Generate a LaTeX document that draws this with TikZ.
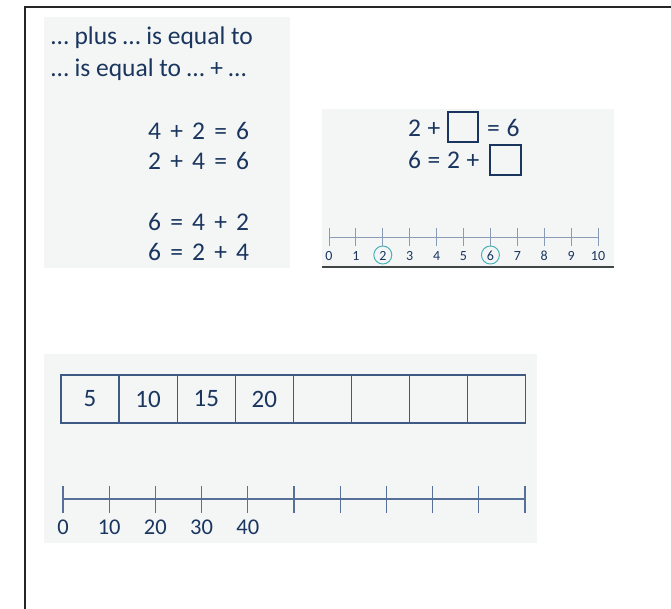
\documentclass[tikz,border=0pt]{standalone}
\usepackage{fontspec}
\setmainfont{Carlito}
\usetikzlibrary{calc}
\definecolor{ink}{HTML}{1A365F}
\definecolor{panelbg}{HTML}{F4F6F6}
\definecolor{boxline}{HTML}{3D5A85}
\definecolor{nlineA}{HTML}{8A9BB8}
\definecolor{nlineB}{HTML}{56709A}
\definecolor{teal}{HTML}{4BB3B8}
\definecolor{darkbar}{HTML}{3E4646}
\newcommand\gap{\hspace{0.36em}}
\newcommand\sgap{\hspace{0.26em}}
\tikzset{
  frameline/.style={draw=black!85, line width=1.3pt},
  panel/.style={fill=panelbg},
  txt/.style={text=ink, font=\fontsize{25.5}{30}\selectfont, inner sep=0pt, anchor=base west},
  blankbox/.style={draw=ink, line width=1.4pt, inner sep=0pt},
  cell/.style={draw=boxline, line width=1.3pt, minimum width=58.1pt, minimum height=48pt, inner sep=0pt, text=ink, font=\fontsize{25}{30}\selectfont},
  smalllab/.style={text=ink, font=\fontsize{14}{16}\selectfont, inner sep=0pt, anchor=base},
  biglab/.style={text=ink, font=\fontsize{22.5}{26}\selectfont, inner sep=0pt, anchor=base},
  ringmark/.style={draw=teal, line width=1pt, circle, minimum size=18pt, inner sep=0pt},
}
\begin{document}
\begin{tikzpicture}[x=1pt,y=-1pt]
\useasboundingbox (0,0) rectangle (671,608);
\clip (0,0) rectangle (671,608);
\fill[white] (0,0) rectangle (671,608);
% outer frame
\draw[frameline] (25,7) rectangle (700,700);
% panels
\fill[panel] (44,17) rectangle (290,268);
\fill[panel] (322,109) rectangle (614,267);
\fill[panel] (44,354) rectangle (537,543);
% panel 1 text
\node[txt] (l1) at (51,44) {… plus … is equal to};
\node[txt] (l2) at (51,76) {… is equal to … + …};
\node[txt] (e1) at (148,139) {4\gap+\gap2\gap=\gap6};
\node[txt] (e2) at (148,169) {2\gap+\gap4\gap=\gap6};
\node[txt] (e3) at (148,230) {6\gap=\gap4\gap+\gap2};
\node[txt] (e4) at (148,260) {6\gap=\gap2\gap+\gap4};
% panel 2 equations
\node[txt] (q1a) at (408,136) {2\sgap+};
\node[blankbox, minimum width=30pt, minimum height=30pt] (b1) at (463,127) {};
\node[txt] (q1b) at (487,136) {=\sgap6};
\node[txt] (q2a) at (408,168) {6\sgap=\sgap2\sgap+};
\node[blankbox, minimum width=31pt, minimum height=30pt] (b2) at (505.5,160) {};
% panel 2 number line
\coordinate (na0) at (329,237);
\coordinate (na10) at (598,237);
\draw[nlineA, line width=1pt] (na0) -- (na10);
\foreach \i in {0,...,10} {
  \draw[nlineA, line width=1pt] ($(na0)!\i/10!(na10)+(0,-9)$) -- ($(na0)!\i/10!(na10)+(0,9)$);
  \node[smalllab] (nal\i) at ($(na0)!\i/10!(na10)+(0,23)$) {\i};
}
\node[ringmark] (r2) at ($(na0)!0.2!(na10)+(0,18)$) {};
\node[ringmark] (r6) at ($(na0)!0.6!(na10)+(0,18)$) {};
\draw[darkbar, line width=2.2pt] (322,267) -- (614,267);
% panel 3 cells
\foreach \i/\t in {1/5,2/10,3/15,4/20,5/,6/,7/,8/} {
  \node[cell] (c\i) at ({61+58.1*(\i-0.5)},399) {\t};
}
% panel 3 number line
\coordinate (nb0) at (63,499);
\coordinate (nb10) at (525,499);
\draw[nlineB, line width=1.3pt] (nb0) -- (nb10);
\foreach \i in {0,...,10} {
  \draw[nlineB, line width=1.3pt] ($(nb0)!\i/10!(nb10)+(0,-13)$) -- ($(nb0)!\i/10!(nb10)+(0,14)$);
}
\foreach \i/\t in {0/0,1/10,2/20,3/30,4/40} {
  \node[biglab] (nbl\i) at ($(nb0)!\i/10!(nb10)+(0,35)$) {\t};
}
\end{tikzpicture}
\end{document}
